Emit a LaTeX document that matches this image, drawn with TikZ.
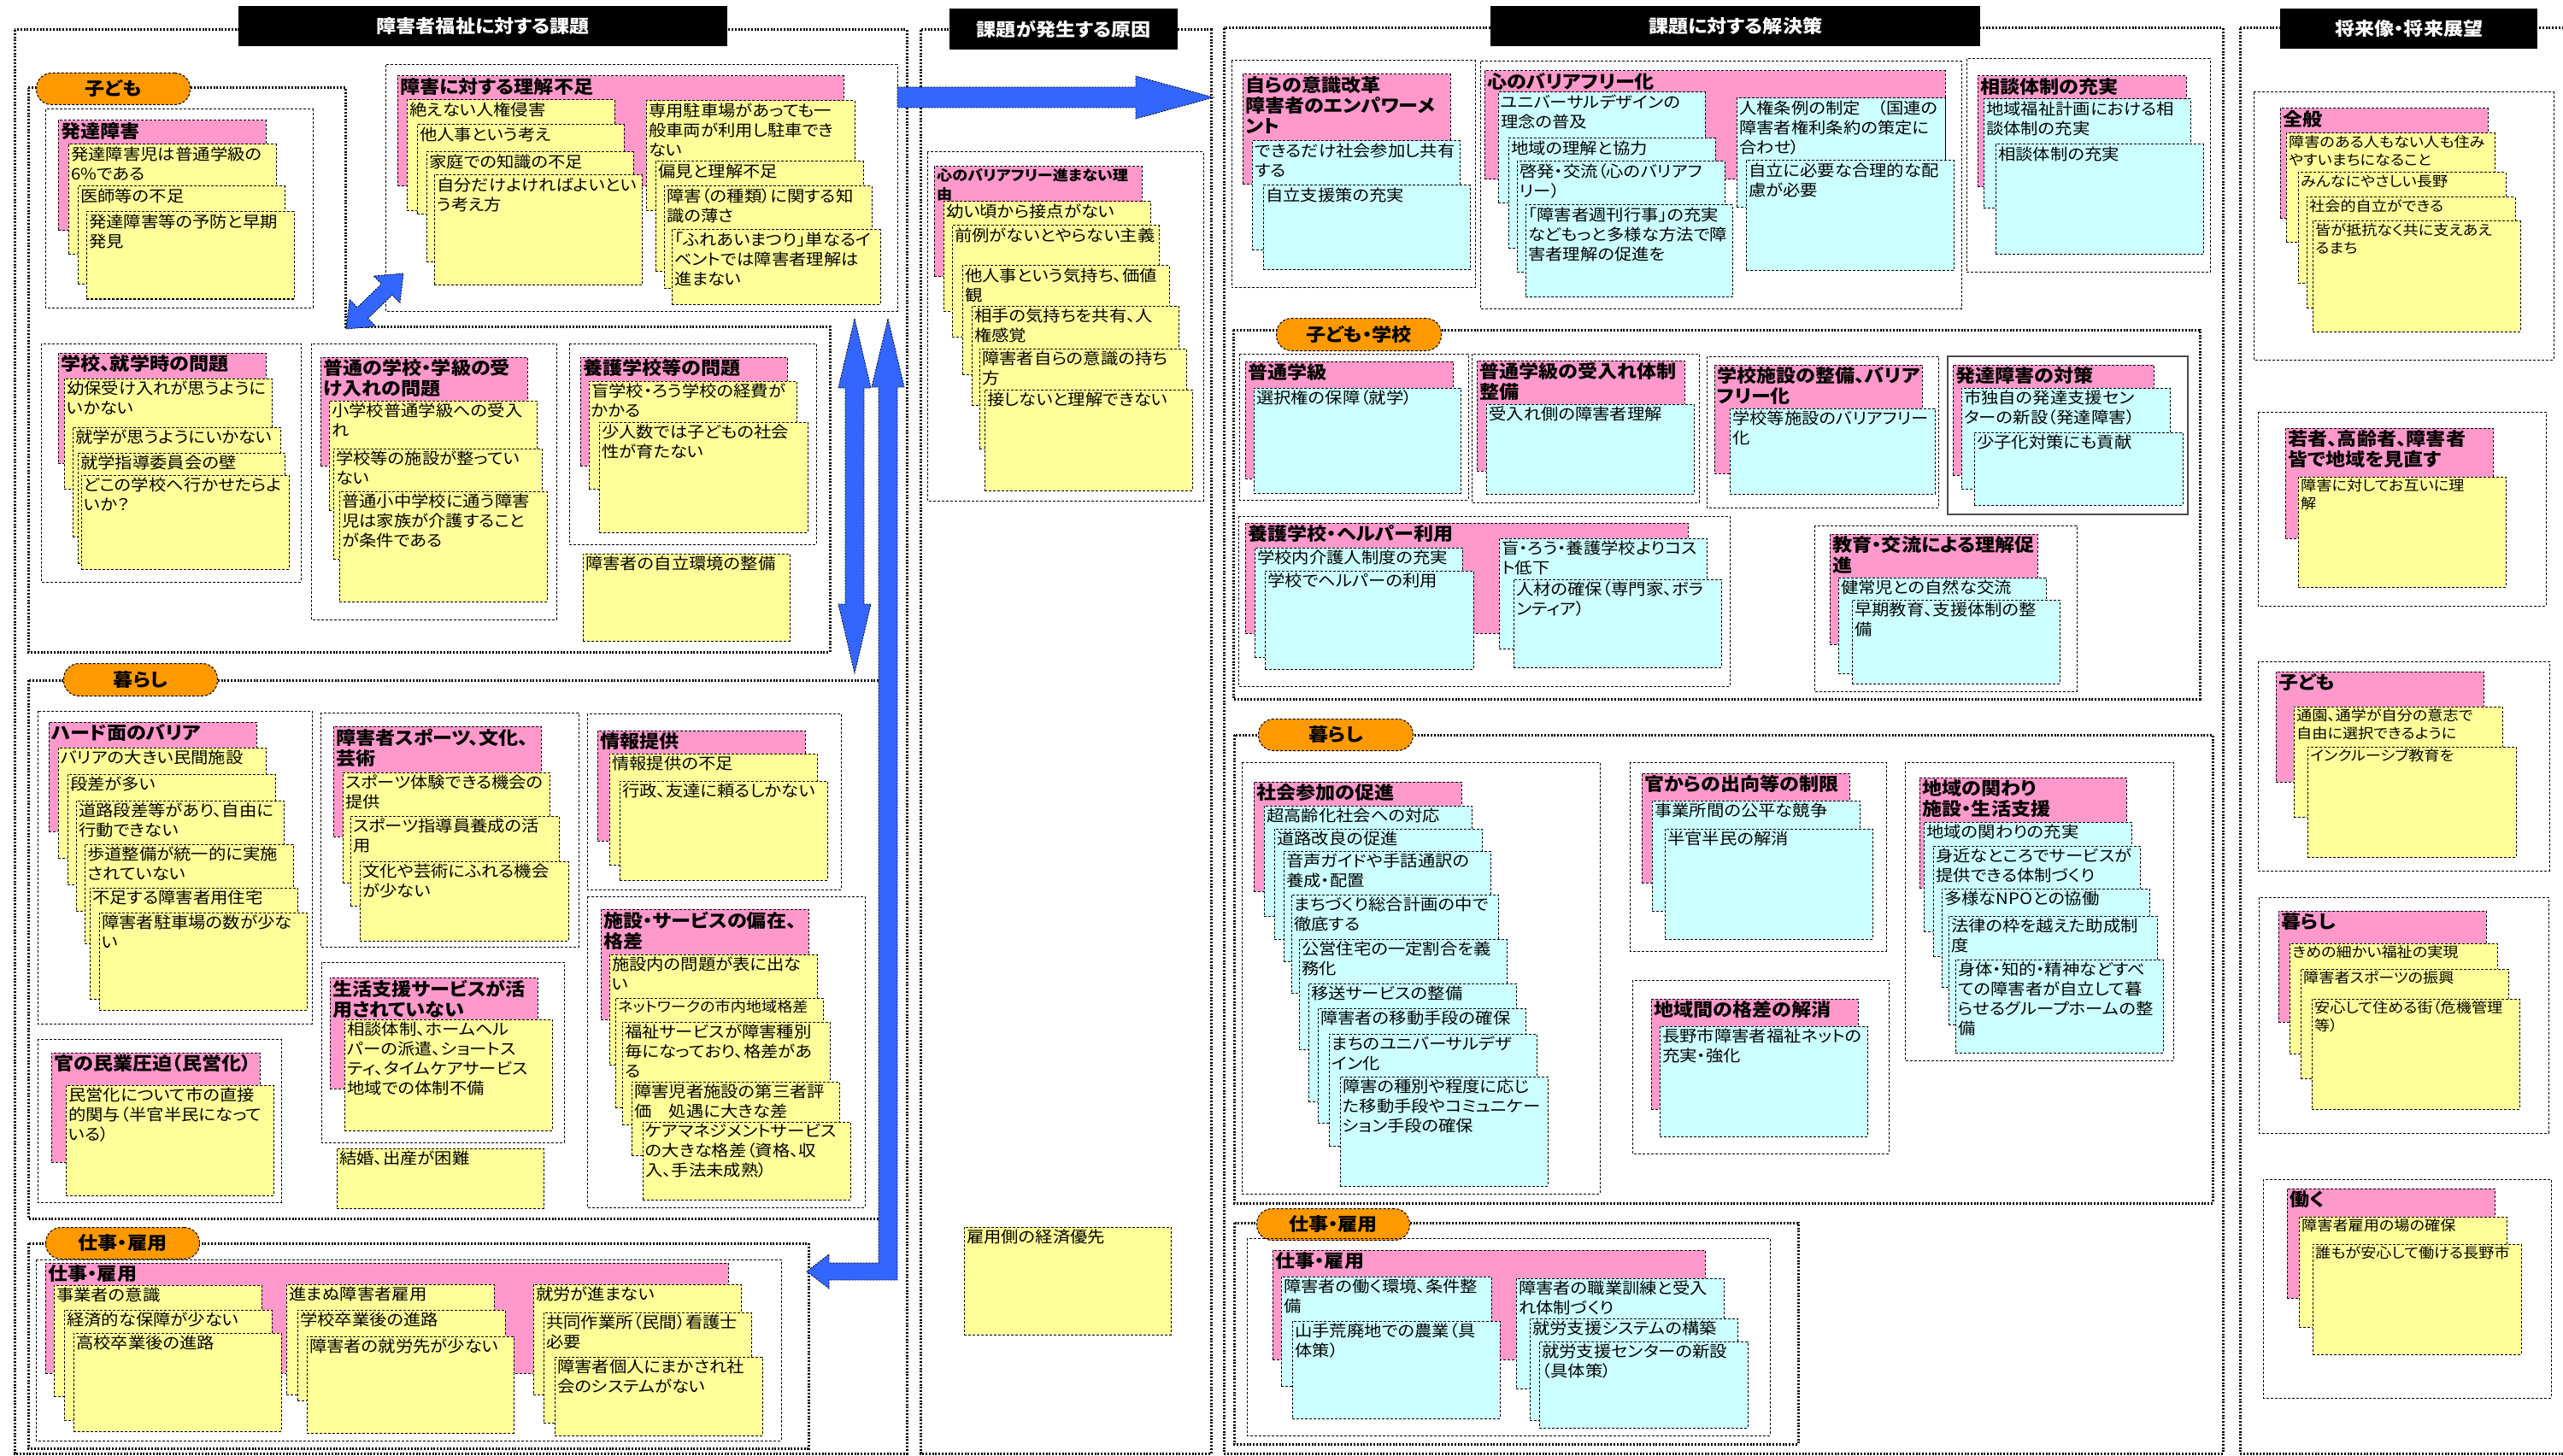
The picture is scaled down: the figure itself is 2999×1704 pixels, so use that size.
\documentclass[tikz,border=0pt]{standalone}
\usepackage{fontspec}
\setmainfont{Noto Sans CJK JP}[FakeStretch=1.1,RawFeature=+palt]
\usetikzlibrary{calc}
\definecolor{pinkc}{HTML}{FF99CC}
\definecolor{yelc}{HTML}{FFFF99}
\definecolor{cyac}{HTML}{CCFFFF}
\definecolor{orac}{HTML}{FF9900}
\definecolor{bluc}{HTML}{3366FF}
\newcommand\bodyf{\fontsize{18.5}{23}\selectfont}
\newcommand\smallf{\fontsize{16.5}{21}\selectfont}
\newcommand\hdf{\fontsize{21}{24}\selectfont\bfseries}
\newcommand\hdsf{\fontsize{16.5}{22}\selectfont\bfseries}
\tikzset{
 sec/.style={draw=black, line width=3pt, dash pattern=on 2pt off 1.8pt},
 grp/.style={draw=black, line width=1pt, dash pattern=on 3pt off 2pt},
 sgrp/.style={draw=black!70, line width=1.5pt},
 bx/.style={draw=black, line width=1pt, dash pattern=on 3pt off 2pt},
 pk/.style={bx, fill=pinkc},
 yl/.style={bx, fill=yelc},
 cy/.style={bx, fill=cyac},
 bodyt/.style={font=\bodyf},
 smt/.style={font=\smallf},
 hdt/.style={font=\hdf},
 hds/.style={font=\hdsf},
 pill/.style={draw=black, line width=1pt, dash pattern=on 3pt off 2pt, fill=orac, rounded corners=18pt, font=\hdf, inner sep=0pt},
 ttl/.style={fill=black, text=white, font=\hdf, inner sep=0pt},
 blk/.style={fill=bluc, draw=black, line width=0.8pt, dash pattern=on 2pt off 1.5pt},
}
\newcommand\mynote[8][bodyt]{%
 \node[#2, anchor=north west, inner sep=0pt, outer sep=0pt, minimum width={(#6)-(#4)}, minimum height={(#7)-(#5)}] (#3) at (#4,#5) {};%
 \node[#1, anchor=north west, align=left, inner xsep=3pt, inner ysep=2.5pt] (#3t) at (#3.north west) {#8};}
\newcommand\myhd[7][hdt]{\mynote[#1]{pk}{#2}{#3}{#4}{#5}{#6}{#7}}
\newcommand\darrow[5]{%
 \coordinate (#1h) at ($(#1)!#4!(#2)$);
 \coordinate (#2h) at ($(#2)!#4!(#1)$);
 \path[blk] (#1) -- ($(#1h)!#5!90:(#2)$) -- ($(#1h)!#3!90:(#2)$) -- ($(#2h)!#3!-90:(#1)$) -- ($(#2h)!#5!-90:(#1)$) -- (#2) -- ($(#2h)!#5!90:(#1)$) -- ($(#2h)!#3!90:(#1)$) -- ($(#1h)!#3!-90:(#2)$) -- ($(#1h)!#5!-90:(#2)$) -- cycle;}
\newcommand\sarrow[5]{%
 \coordinate (#2h) at ($(#2)!#4!(#1)$);
 \path[blk] ($(#1)!#3!90:(#2)$) -- ($(#2h)!#3!-90:(#1)$) -- ($(#2h)!#5!-90:(#1)$) -- (#2) -- ($(#2h)!#5!90:(#1)$) -- ($(#2h)!#3!90:(#1)$) -- ($(#1)!#3!-90:(#2)$) -- cycle;}
\begin{document}
\begin{tikzpicture}[x=1pt,y=-1pt]
\fill[white] (0,0) rectangle (2999,1704);
\useasboundingbox (0,0) rectangle (2999,1704);
% section frames
\draw[sec] (17,35) rectangle (1061,1701);
\draw[sec] (1077,35) rectangle (1417,1701);
\draw[sec] (1432,33) rectangle (2601,1701);
\draw[sec] (2621,33) rectangle (3010,1701);
\node[ttl, anchor=north west, minimum width=572, minimum height=47] (t1) at (279,7) {障害者福祉に対する課題};
\node[ttl, anchor=north west, minimum width=267, minimum height=48] (t2) at (1111,10) {課題が発生する原因};
\node[ttl, anchor=north west, minimum width=573, minimum height=47] (t3) at (1744,7) {課題に対する解決策};
\node[ttl, anchor=north west, minimum width=301, minimum height=47] (t4) at (2668,10) {将来像・将来展望};
% section 1 subframes
\draw[sec] (33,103) -- (404,103) -- (404,382) -- (971,382) -- (971,763) -- (33,763) -- cycle;
\draw[sec] (33,796) rectangle (1033,1426);
\draw[sec] (33,1455) rectangle (946,1695);
\node[pill, anchor=north west, minimum width=180, minimum height=37] (p1) at (42,85) {子ども};
\node[pill, anchor=north west, minimum width=180, minimum height=38] (p2) at (74,776) {暮らし};
\node[pill, anchor=north west, minimum width=180, minimum height=37] (p3) at (53,1436) {仕事・雇用};
% 理解不足
\draw[grp] (451,76) rectangle (1050,364);
\myhd{rk}{465}{89}{987}{218}{障害に対する理解不足}
\mynote{yl}{rk1}{476}{117}{719}{247}{絶えない人権侵害}
\mynote{yl}{rk2}{488}{146}{730}{251}{他人事という考え}
\mynote{yl}{rk3}{499}{178}{741}{307}{家庭での知識の不足}
\mynote{yl}{rk4}{508}{205}{751}{334}{自分だけよければよいとい\\う考え方}
\mynote{yl}{rk5}{756}{118}{1000}{247}{専用駐車場があっても一\\般車両が利用し駐車でき\\ない}
\mynote{yl}{rk6}{767}{189}{1010}{318}{偏見と理解不足}
\mynote{yl}{rk7}{777}{218}{1020}{338}{障害（の種類）に関する知\\識の薄さ}
\mynote{yl}{rk8}{786}{269}{1030}{356}{「ふれあいまつり」単なるイ\\ベントでは障害者理解は\\進まない}
% 発達障害
\draw[grp] (53,128) rectangle (366,360);
\myhd{hs}{68}{141}{311}{270}{発達障害}
\mynote{yl}{hs1}{80}{169}{323}{298}{発達障害児は普通学級の\\6\%である}
\mynote{yl}{hs2}{91}{218}{333}{333}{医師等の不足}
\mynote{yl}{hs3}{101}{248}{344}{350}{発達障害等の予防と早期\\発見}
% 学校就学
\draw[grp] (48,402) rectangle (352,681);
\myhd{gs}{68}{413}{311}{542}{学校、就学時の問題}
\mynote{yl}{gs1}{75}{443}{318}{572}{幼保受け入れが思うように\\いかない}
\mynote{yl}{gs2}{85}{500}{328}{628}{就学が思うようにいかない}
\mynote{yl}{gs3}{91}{530}{333}{659}{就学指導委員会の壁}
\mynote{yl}{gs4}{95}{556}{338}{666}{どこの学校へ行かせたらよ\\いか？}
% 普通の学校
\draw[grp] (364,402) rectangle (651,725);
\myhd{fg}{375}{418}{617}{545}{普通の学校・学級の受\\け入れの問題}
\mynote{yl}{fg1}{385}{469}{628}{597}{小学校普通学級への受入\\れ}
\mynote{yl}{fg2}{390}{525}{634}{654}{学校等の施設が整ってい\\ない}
\mynote{yl}{fg3}{397}{575}{640}{704}{普通小中学校に通う障害\\児は家族が介護すること\\が条件である}
% 養護
\draw[grp] (666,402) rectangle (955,637);
\myhd{yg}{679}{418}{921}{545}{養護学校等の問題}
\mynote{yl}{yg1}{689}{446}{932}{572}{盲学校・ろう学校の経費が\\かかる}
\mynote{yl}{yg2}{701}{494}{945}{623}{少人数では子どもの社会\\性が育たない}
\mynote{yl}{jr}{682}{648}{924}{750}{障害者の自立環境の整備}
% 暮らし
\draw[grp] (44,832) rectangle (365,1198);
\myhd{hd}{57}{845}{300}{973}{ハード面のバリア}
\mynote{yl}{hd1}{68}{875}{311}{1004}{バリアの大きい民間施設}
\mynote{yl}{hd2}{79}{906}{322}{1035}{段差が多い}
\mynote{yl}{hd3}{89}{937}{332}{1066}{道路段差等があり、自由に\\行動できない}
\mynote{yl}{hd4}{99}{988}{343}{1104}{歩道整備が統一的に実施\\されていない}
\mynote{yl}{hd5}{105}{1039}{348}{1169}{不足する障害者用住宅}
\mynote{yl}{hd6}{116}{1068}{359}{1182}{障害者駐車場の数が少な\\い}
\draw[grp] (375,834) rectangle (677,1108);
\myhd{sp}{390}{850}{633}{979}{障害者スポーツ、文化、\\芸術}
\mynote{yl}{sp1}{401}{904}{643}{1033}{スポーツ体験できる機会の\\提供}
\mynote{yl}{sp2}{410}{955}{654}{1060}{スポーツ指導員養成の活\\用}
\mynote{yl}{sp3}{421}{1008}{665}{1101}{文化や芸術にふれる機会\\が少ない}
\draw[grp] (687,835) rectangle (984,1041);
\myhd{jh}{699}{855}{942}{984}{情報提供}
\mynote{yl}{jh1}{713}{882}{956}{1012}{情報提供の不足}
\mynote{yl}{jh2}{725}{914}{968}{1030}{行政、友達に頼るしかない}
\draw[grp] (687,1049) rectangle (1012,1413);
\myhd{ss}{703}{1064}{946}{1193}{施設・サービスの偏在、\\格差}
\mynote{yl}{ss1}{713}{1117}{956}{1246}{施設内の問題が表に出な\\い}
\mynote[smt]{yl}{ss2}{720}{1168}{963}{1296}{ネットワークの市内地域格差}
\mynote{yl}{ss3}{728}{1196}{971}{1316}{福祉サービスが障害種別\\毎になっており、格差があ\\る}
\mynote{yl}{ss4}{739}{1266}{982}{1352}{障害児者施設の第三者評\\価　処遇に大きな差}
\mynote{yl}{ss5}{752}{1313}{995}{1404}{ケアマネジメントサービス\\の大きな格差（資格、収\\入、手法未成熟）}
\draw[grp] (44,1216) rectangle (329,1407);
\myhd{km}{60}{1232}{304}{1360}{官の民業圧迫（民営化）}
\mynote{yl}{km1}{77}{1270}{320}{1399}{民営化について市の直接\\的関与（半官半民になって\\いる）}
\draw[grp] (376,1126) rectangle (660,1337);
\myhd{sk}{386}{1144}{629}{1274}{生活支援サービスが活\\用されていない}
\mynote{yl}{sk1}{403}{1193}{646}{1323}{相談体制、ホームヘル\\パーの派遣、ショートス\\ティ、タイムケアサービス\\地域での体制不備}
\mynote{yl}{kk}{394}{1344}{636}{1414}{結婚、出産が困難}
% 仕事
\draw[grp] (42,1474) rectangle (914,1686);
\myhd{sg}{53}{1478}{852}{1607}{仕事・雇用}
\mynote{yl}{sg1}{63}{1504}{306}{1634}{事業者の意識}
\mynote{yl}{sg2}{75}{1533}{318}{1662}{経済的な保障が少ない}
\mynote{yl}{sg3}{86}{1560}{329}{1675}{高校卒業後の進路}
\mynote{yl}{sg4}{335}{1503}{578}{1632}{進まぬ障害者雇用}
\mynote{yl}{sg5}{348}{1533}{591}{1639}{学校卒業後の進路}
\mynote{yl}{sg6}{359}{1564}{601}{1677}{障害者の就労先が少ない}
\mynote{yl}{sg7}{624}{1503}{867}{1632}{就労が進まない}
\mynote{yl}{sg8}{636}{1536}{879}{1665}{共同作業所（民間）看護士\\必要}
\mynote{yl}{sg9}{649}{1588}{892}{1680}{障害者個人にまかされ社\\会のシステムがない}
% section 2
\draw[grp] (1085,178) rectangle (1408,586);
\myhd[hds]{kb}{1093}{195}{1336}{324}{心のバリアフリー進まない理\\由}
\mynote{yl}{kb1}{1104}{236}{1346}{364}{幼い頃から接点がない}
\mynote{yl}{kb2}{1114}{264}{1356}{394}{前例がないとやらない主義}
\mynote{yl}{kb3}{1126}{311}{1368}{438}{他人事という気持ち、価値\\観}
\mynote{yl}{kb4}{1137}{358}{1379}{474}{相手の気持ちを共有、人\\権感覚}
\mynote{yl}{kb5}{1146}{408}{1388}{525}{障害者自らの意識の持ち\\方}
\mynote{yl}{kb6}{1152}{456}{1395}{574}{接しないと理解できない}
\mynote{yl}{ky}{1128}{1436}{1370}{1562}{雇用側の経済優先}
% section 3
\draw[grp] (1441,71) rectangle (1726,337);
\myhd{ms}{1454}{87}{1697}{216}{自らの意識改革\\障害者のエンパワーメ\\ント}
\mynote{cy}{ms1}{1465}{165}{1708}{293}{できるだけ社会参加し共有\\する}
\mynote{cy}{ms2}{1478}{217}{1720}{316}{自立支援策の充実}
\draw[grp] (1732,72) rectangle (2295,361);
\myhd{kf}{1737}{83}{2276}{210}{心のバリアフリー化}
\mynote{cy}{kf1}{1753}{108}{1995}{238}{ユニバーサルデザインの\\理念の普及}
\mynote{cy}{kf2}{1765}{162}{2007}{291}{地域の理解と協力}
\mynote{cy}{kf3}{1775}{189}{2018}{319}{啓発・交流（心のバリアフ\\リー）}
\mynote{cy}{kf4}{1785}{240}{2027}{348}{「障害者週刊行事」の充実\\などもっと多様な方法で障\\害者理解の促進を}
\mynote{cy}{kf5}{2032}{115}{2276}{243}{人権条例の制定　（国連の\\障害者権利条約の策定に\\合わせ）}
\mynote{cy}{kf6}{2043}{188}{2286}{317}{自立に必要な合理的な配\\慮が必要}
\draw[grp] (2301,69) rectangle (2586,319);
\myhd{st}{2314}{89}{2558}{219}{相談体制の充実}
\mynote{cy}{st1}{2321}{116}{2563}{244}{地域福祉計画における相\\談体制の充実}
\mynote{cy}{st2}{2335}{169}{2578}{298}{相談体制の充実}
% 子ども・学校
\draw[sec] (1443,386) rectangle (2574,818);
\draw[sec] (1444,860) rectangle (2589,1408);
\draw[sec] (1444,1431) rectangle (2104,1690);
\node[pill, anchor=north west, minimum width=193, minimum height=38] (p4) at (1493,372) {子ども・学校};
\node[pill, anchor=north west, minimum width=181, minimum height=37] (p5) at (1472,841) {暮らし};
\node[pill, anchor=north west, minimum width=179, minimum height=37] (p6) at (1470,1414) {仕事・雇用};
\draw[grp] (1450,414) rectangle (1718,585);
\myhd{fk}{1457}{423}{1700}{560}{普通学級}
\mynote{cy}{fk1}{1467}{454}{1709}{577}{選択権の保障（就学）}
\draw[grp] (1722,414) rectangle (1988,588);
\myhd{uk}{1728}{422}{1971}{551}{普通学級の受入れ体制\\整備}
\mynote{cy}{uk1}{1739}{473}{1982}{578}{受入れ側の障害者理解}
\draw[grp] (1997,417) rectangle (2268,594);
\myhd{gb}{2006}{427}{2249}{554}{学校施設の整備、バリア\\フリー化}
\mynote{cy}{gb1}{2024}{478}{2264}{578}{学校等施設のバリアフリー\\化}
\draw[sgrp] (2279,417) rectangle (2560,602);
\myhd{ht}{2285}{427}{2520}{556}{発達障害の対策}
\mynote{cy}{ht1}{2295}{454}{2539}{572}{市独自の発達支援セン\\ターの新設（発達障害）}
\mynote{cy}{ht2}{2310}{506}{2554}{591}{少子化対策にも貢献}
\draw[grp] (1449,604) rectangle (2024,803);
\myhd{yh}{1457}{612}{1975}{741}{養護学校・ヘルパー利用}
\mynote{cy}{yh1}{1468}{641}{1711}{769}{学校内介護人制度の充実}
\mynote{cy}{yh2}{1480}{668}{1724}{783}{学校でヘルパーの利用}
\mynote{cy}{yh3}{1754}{630}{1997}{759}{盲・ろう・養護学校よりコス\\ト低下}
\mynote{cy}{yh4}{1771}{678}{2014}{781}{人材の確保（専門家、ボラ\\ンティア）}
\draw[grp] (2123,615) rectangle (2430,809);
\myhd{kr}{2141}{625}{2384}{754}{教育・交流による理解促\\進}
\mynote{cy}{kr1}{2151}{676}{2394}{788}{健常児との自然な交流}
\mynote{cy}{kr2}{2167}{702}{2410}{800}{早期教育、支援体制の整\\備}
% 暮らし s3
\draw[grp] (1453,892) rectangle (1872,1397);
\myhd{sa}{1467}{915}{1710}{1043}{社会参加の促進}
\mynote{cy}{sa1}{1479}{943}{1722}{1072}{超高齢化社会への対応}
\mynote{cy}{sa2}{1491}{970}{1734}{1099}{道路改良の促進}
\mynote{cy}{sa3}{1502}{996}{1744}{1125}{音声ガイドや手話通訳の\\養成・配置}
\mynote{cy}{sa4}{1511}{1047}{1753}{1162}{まちづくり総合計画の中で\\徹底する}
\mynote{cy}{sa5}{1520}{1099}{1763}{1228}{公営住宅の一定割合を義\\務化}
\mynote{cy}{sa6}{1531}{1151}{1774}{1289}{移送サービスの整備}
\mynote{cy}{sa7}{1542}{1180}{1785}{1314}{障害者の移動手段の確保}
\mynote{cy}{sa8}{1555}{1210}{1798}{1341}{まちのユニバーサルデザ\\イン化}
\mynote{cy}{sa9}{1568}{1260}{1811}{1388}{障害の種別や程度に応じ\\た移動手段やコミュニケー\\ション手段の確保}
\draw[grp] (1907,892) rectangle (2207,1113);
\myhd{ks}{1921}{905}{2164}{1033}{官からの出向等の制限}
\mynote{cy}{ks1}{1933}{937}{2176}{1066}{事業所間の公平な競争}
\mynote{cy}{ks2}{1948}{970}{2191}{1099}{半官半民の解消}
\draw[grp] (1910,1147) rectangle (2210,1350);
\myhd{cg}{1932}{1169}{2174}{1298}{地域間の格差の解消}
\mynote{cy}{cg1}{1942}{1201}{2185}{1330}{長野市障害者福祉ネットの\\充実・強化}
\draw[grp] (2229,892) rectangle (2543,1241);
\myhd{ck}{2246}{910}{2488}{1039}{地域の関わり\\施設・生活支援}
\mynote{cy}{ck1}{2251}{962}{2494}{1090}{地域の関わりの充実}
\mynote{cy}{ck2}{2262}{990}{2504}{1119}{身近なところでサービスが\\提供できる体制づくり}
\mynote{cy}{ck3}{2272}{1040}{2515}{1155}{多様なNPOとの協働}
\mynote{cy}{ck4}{2280}{1072}{2524}{1199}{法律の枠を越えた助成制\\度}
\mynote{cy}{ck5}{2288}{1123}{2531}{1232}{身体・知的・精神などすべ\\ての障害者が自立して暮\\らせるグループホームの整\\備}
% 仕事 s3
\draw[grp] (1459,1449) rectangle (2071,1680);
\myhd{sh}{1489}{1463}{1995}{1591}{仕事・雇用}
\mynote{cy}{sh1}{1499}{1494}{1745}{1622}{障害者の働く環境、条件整\\備}
\mynote{cy}{sh2}{1512}{1546}{1755}{1660}{山手荒廃地での農業（具\\体策）}
\mynote{cy}{sh3}{1774}{1496}{2017}{1625}{障害者の職業訓練と受入\\れ体制づくり}
\mynote{cy}{sh4}{1790}{1543}{2033}{1662}{就労支援システムの構築}
\mynote{cy}{sh5}{1801}{1570}{2045}{1671}{就労支援センターの新設\\（具体策）}
% section 4
\draw[grp] (2637,108) rectangle (2988,421);
\myhd{zp}{2668}{127}{2911}{256}{全般}
\mynote[smt]{yl}{zp1}{2675}{156}{2919}{284}{障害のある人もない人も住み\\やすいまちになること}
\mynote[smt]{yl}{zp2}{2689}{202}{2932}{332}{みんなにやさしい長野}
\mynote[smt]{yl}{zp3}{2699}{231}{2943}{360}{社会的自立ができる}
\mynote[smt]{yl}{zp4}{2706}{259}{2949}{388}{皆が抵抗なく共に支えあえ\\るまち}
\draw[grp] (2642,482) rectangle (2979,709);
\myhd{wk}{2674}{501}{2917}{630}{若者、高齢者、障害者\\皆で地域を見直す}
\mynote[smt]{yl}{wk1}{2689}{558}{2932}{687}{障害に対してお互いに理\\解}
\draw[grp] (2642,774) rectangle (2983,1019);
\myhd{kd}{2663}{786}{2906}{915}{子ども}
\mynote[smt]{yl}{kd1}{2684}{827}{2928}{956}{通園、通学が自分の意志で\\自由に選択できるように}
\mynote[smt]{yl}{kd2}{2700}{874}{2944}{1003}{インクルーシブ教育を}
\draw[grp] (2643,1050) rectangle (2982,1326);
\myhd{kl}{2666}{1066}{2909}{1196}{暮らし}
\mynote[smt]{yl}{kl1}{2679}{1104}{2922}{1233}{きめの細かい福祉の実現}
\mynote[smt]{yl}{kl2}{2692}{1134}{2935}{1262}{障害者スポーツの振興}
\mynote[smt]{yl}{kl3}{2705}{1169}{2948}{1298}{安心して住める街（危機管理\\等）}
\draw[grp] (2648,1380) rectangle (2985,1636);
\myhd{hr}{2676}{1391}{2919}{1519}{働く}
\mynote[smt]{yl}{hr1}{2690}{1424}{2933}{1553}{障害者雇用の場の確保}
\mynote[smt]{yl}{hr2}{2706}{1456}{2950}{1585}{誰もが安心して働ける長野市}
% arrows
\coordinate (hA) at (1050,114);
\coordinate (hB) at (1420,114);
\sarrow{hA}{hB}{12pt}{91pt}{25pt}
\coordinate (vA) at (1000,373);
\coordinate (vB) at (1000,788);
\darrow{vA}{vB}{11pt}{81pt}{19pt}
\coordinate (dA) at (405,385);
\coordinate (dB) at (472,320);
\darrow{dA}{dB}{9pt}{27pt}{22pt}
\coordinate (e1) at (1039,373);
\coordinate (e2) at (944,1488);
\path[blk] (e1) -- ++(19,80) -- ++(-8,0) -- (1050,1498) -- (970,1498) -- (970,1508) -- (e2) -- (970,1468) -- (970,1478) -- (1028,1478) -- (1028,453) -- (1020,453) -- cycle;
\end{tikzpicture}
\end{document}
